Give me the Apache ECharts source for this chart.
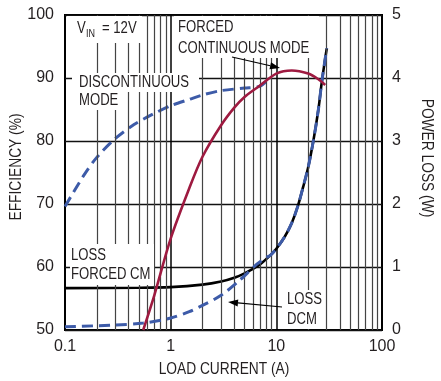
<!DOCTYPE html>
<html><head><meta charset="utf-8">
<script src="https://cdn.jsdelivr.net/npm/echarts@6/dist/echarts.min.js"></script>
<style>html,body{margin:0;padding:0;background:#fff}#c{width:441px;height:381px}</style>
</head><body><div id="c"></div>
<script>
// Efficiency, discontinuous mode (%)
const dcmEffX = [0.1, 0.15, 0.2, 0.3, 0.45, 0.65, 1, 1.5, 2, 3, 5, 7, 8.3];
const dcmEffY = [69.6, 74.5, 77.4, 80.4, 82.6, 84.1, 85.6, 86.6, 87.3, 88.0, 88.4, 88.7, 89.7];
// Efficiency, forced continuous mode (%)
const fcmEffX = [0.55, 0.7, 1.0, 1.5, 2, 3, 4, 5, 7, 10, 14, 20, 25, 29];
const fcmEffY = [50, 55.5, 64.5, 72.5, 77.5, 82.5, 85.3, 87.0, 88.8, 90.7, 91.2, 90.7, 89.8, 88.9];
// Power loss, forced CM (W)
const lossFcmX = [0.1, 0.5, 1, 2, 3, 4, 5, 6, 7, 8.7, 10, 12, 14, 16, 18, 20, 22.5, 25, 27, 30];
const lossFcmY = [0.665, 0.67, 0.68, 0.72, 0.77, 0.83, 0.9, 0.97, 1.04, 1.18, 1.29, 1.48, 1.7, 1.97, 2.28, 2.58, 3.02, 3.5, 3.95, 4.47];
// Power loss, DCM (W)
const lossDcmX = [0.1, 0.3, 0.55, 1, 1.5, 2, 3, 4.5, 6.5, 8, 8.7, 10, 12, 14, 16, 18, 20, 22.5, 25, 27, 30];
const lossDcmY = [0.05, 0.08, 0.11, 0.19, 0.29, 0.39, 0.55, 0.79, 1.04, 1.15, 1.18, 1.29, 1.48, 1.7, 1.97, 2.28, 2.58, 3.02, 3.5, 3.95, 4.47];
// Grid line positions (A)
const minorGridX = [0.2,0.3,0.4,0.5,0.6,0.7,0.8,0.9, 2,3,4,5,6,7,8,9, 20,30,40,50,60,70,80,90];
const majorGridX = [1, 10];

const F = '"Liberation Sans",Arial,sans-serif';
const TXT = '#231f20';
const BLUE = '#3d5ba8';
const RED = '#9e1a40';
const zip = (xs, ys) => xs.map((x, i) => [x, ys[i]]);

const chart = echarts.init(document.getElementById('c'), null, {renderer: 'canvas'});

function txt(text, x, y, size, opts) {
  opts = opts || {};
  return {type: 'text', z: 101, x: x, y: y, rotation: opts.rot || 0, scaleX: opts.sx || 0.82,
    style: {text: text, x: 0, y: 0, font: (size || 16) + 'px ' + F, fill: TXT,
      textAlign: opts.align || 'left', align: opts.align || 'left',
      textVerticalAlign: 'middle', verticalAlign: 'middle'}};
}
function box(x, y, w, h) {
  return {type: 'rect', z: 100, shape: {x: x, y: y, width: w, height: h}, style: {fill: '#fff'}};
}
function arrow(x1, y1, x2, y2) {
  const a = Math.atan2(y2 - y1, x2 - x1), L = 10, W = 3.5;
  const bx = x2 - L * Math.cos(a), by = y2 - L * Math.sin(a);
  return [
    {type: 'line', z: 101, shape: {x1: x1, y1: y1, x2: bx, y2: by}, style: {stroke: '#000', lineWidth: 1.2}},
    {type: 'polygon', z: 101, shape: {points: [[x2, y2], [bx + W * Math.sin(a), by - W * Math.cos(a)], [bx - W * Math.sin(a), by + W * Math.cos(a)]]}, style: {fill: '#000'}}
  ];
}

const gridData = minorGridX.map(v => ({xAxis: v}))
  .concat(majorGridX.map(v => ({xAxis: v, lineStyle: {color: '#000', width: 1.5, type: 'solid'}})));

const curve = {type: 'line', showSymbol: false, smooth: 0.3};

chart.setOption({
  animation: false,
  backgroundColor: '#fff',
  grid: {left: 65, top: 15, right: 59, bottom: 51, show: true, borderColor: '#000', borderWidth: 2, backgroundColor: 'transparent'},
  xAxis: {
    type: 'log', logBase: 10, min: 0.1, max: 100,
    axisLine: {show: false}, axisTick: {show: false}, splitLine: {show: false},
    axisLabel: {fontFamily: F, fontSize: 16, color: TXT, margin: 9, formatter: v => String(v)}
  },
  yAxis: [{
    type: 'value', min: 50, max: 100, interval: 10, position: 'left',
    axisLine: {show: false}, axisTick: {show: false},
    splitLine: {show: true, lineStyle: {color: '#111', width: 1.3}},
    axisLabel: {fontFamily: F, fontSize: 16, color: TXT, margin: 11}
  }, {
    type: 'value', min: 0, max: 5, interval: 1, position: 'right',
    axisLine: {show: false}, axisTick: {show: false}, splitLine: {show: false},
    axisLabel: {fontFamily: F, fontSize: 16, color: TXT, margin: 10}
  }],
  series: [
    {type: 'line', z: 0, data: [], xAxisIndex: 0, yAxisIndex: 0, silent: true,
     markLine: {silent: true, symbol: 'none', label: {show: false}, animation: false,
       lineStyle: {color: '#444', width: 1.2, type: 'solid'}, data: gridData}},
    Object.assign({}, curve, {z: 4, yAxisIndex: 1, data: zip(lossFcmX, lossFcmY),
     lineStyle: {color: '#000', width: 2.6}}),
    Object.assign({}, curve, {z: 5, yAxisIndex: 1, data: zip(lossDcmX, lossDcmY),
     lineStyle: {color: BLUE, width: 3, type: [11, 6]}}),
    Object.assign({}, curve, {z: 4, yAxisIndex: 0, data: zip(dcmEffX, dcmEffY),
     lineStyle: {color: BLUE, width: 3, type: [11, 6]}}),
    Object.assign({}, curve, {z: 6, yAxisIndex: 0, data: zip(fcmEffX, fcmEffY),
     lineStyle: {color: RED, width: 2.6}})
  ],
  graphic: [
    box(67, 16, 75, 27),
    box(72, 73, 127, 19),
    box(72, 92, 54, 18),
    box(174, 16, 145, 42),
    box(70, 244, 84, 41),
    box(284, 290, 39, 39),
    txt('V', 77, 29),
    txt('IN', 86, 34, 11),
    txt('= 12V', 102, 29),
    txt('DISCONTINUOUS', 79, 83),
    txt('MODE', 79, 101),
    txt('FORCED', 178, 28),
    txt('CONTINUOUS MODE', 178, 49),
    txt('LOSS', 71, 256),
    txt('FORCED CM', 71, 275),
    txt('LOSS', 287, 300),
    txt('DCM', 287, 320),
    txt('LOAD CURRENT (A)', 224, 370, 16, {align: 'center', sx: 0.86}),
    txt('EFFICIENCY (%)', 17, 167, 16, {align: 'center', sx: 0.86, rot: Math.PI / 2}),
    txt('POWER LOSS (W)', 426, 158, 16, {align: 'center', sx: 0.86, rot: -Math.PI / 2})
  ].concat(arrow(232, 57, 280, 68), arrow(282, 307, 228, 302))
});
</script>
</body></html>
